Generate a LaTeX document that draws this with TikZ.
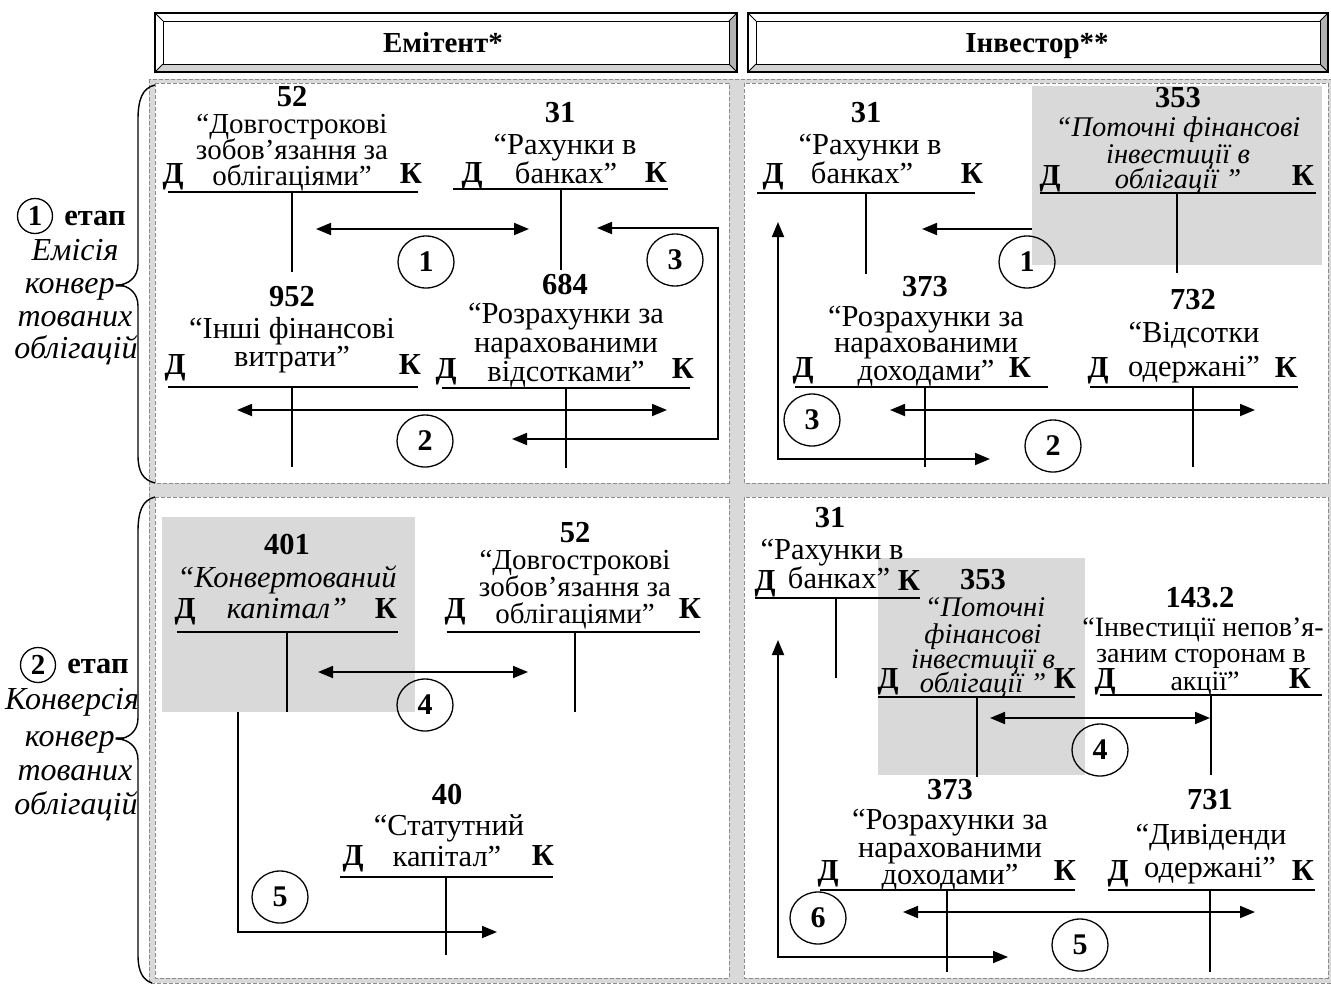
\documentclass[tikz,border=0pt]{standalone}
\usepackage{fontspec}
\setmainfont{Liberation Serif}
\usetikzlibrary{arrows.meta,shapes.geometric}
\definecolor{bggray}{RGB}{217,217,217}
\definecolor{dashgray}{RGB}{140,140,140}
\begin{document}
\begin{tikzpicture}[x=1pt,y=-1pt,
  txt/.style={font=\fontsize{30.5}{30}\selectfont, inner sep=0pt, anchor=base},
  txtb/.style={txt, font=\fontsize{29}{29}\selectfont},
  txts/.style={txt, font=\fontsize{28}{28}\selectfont},
  num/.style={txt, font=\fontsize{30.5}{30}\selectfont\bfseries},
  it/.style={txt, font=\fontsize{30.5}{30}\selectfont\itshape},
  itg/.style={txt, font=\fontsize{28.5}{28}\selectfont\itshape},
  stit/.style={txt, font=\fontsize{32}{32}\selectfont\itshape},
  tline/.style={line width=1.8pt},
  vline/.style={line width=1.3pt},
  arr/.style={line width=1.8pt, -{Triangle[length=15pt,width=12pt]}},
  darr/.style={line width=1.8pt, {Triangle[length=15pt,width=12pt]}-{Triangle[length=15pt,width=12pt]}},
  numcirc/.style={ellipse, draw, line width=1.3pt, minimum width=56pt, minimum height=52pt, inner sep=0pt, font=\fontsize{30}{30}\selectfont\bfseries},
  smallcirc/.style={circle, draw, line width=1.3pt, minimum size=35pt, inner sep=0pt, font=\fontsize{29}{29}\selectfont\bfseries},
  panel/.style={fill=white, draw=dashgray, dash pattern=on 4pt off 2pt, line width=0.8pt},
  brace/.style={line width=1.4pt}]
\useasboundingbox (0,0) rectangle (1331,983);

% background
\fill[bggray] (149,79) rectangle (1331,983);
\draw[dashgray, dash pattern=on 4pt off 2pt, line width=0.8pt] (149,79) rectangle (1331,983);
\draw[panel] (155,83) rectangle (729,483);
\draw[panel] (744,83) rectangle (1328,483);
\draw[panel] (155,497) rectangle (729,978);
\draw[panel] (744,497) rectangle (1328,978);

% shaded accounts
\fill[bggray] (1032,86) rectangle (1322,265);
\fill[bggray] (162,517) rectangle (415,712);
\fill[bggray] (878,558) rectangle (1085,775);

% headers
\foreach \a/\b in {155/737, 748/1328} {
  \fill[gray!35] (\a,72) -- (\b,72) -- (\b-8,64) -- (\a+8,64) -- cycle;
  \fill[gray!60] (\b,13) -- (\b,72) -- (\b-8,64) -- (\b-8,21) -- cycle;
  \draw[line width=2pt] (\a,13) rectangle (\b,72);
  \draw[line width=1pt] (\a+8,21) rectangle (\b-8,64);
  \draw[line width=1pt] (\a,13) -- (\a+8,21) (\b,13) -- (\b-8,21) (\a,72) -- (\a+8,64) (\b,72) -- (\b-8,64);
}
\node[num, font=\fontsize{29}{29}\selectfont\bfseries] (hem) at (443,52) {Емітент*};
\node[num, font=\fontsize{29}{29}\selectfont\bfseries] (hinv) at (1037,52) {Інвестор**};

% stage labels and braces
\node[smallcirc] (s1) at (35,216) {1};
\node[num] (s1e) at (95,225) {етап};
\node[stit] (s1a) at (75,260) {Емісія};
\node[stit] (s1b) at (75,293) {конвер-};
\node[stit] (s1c) at (75,326) {тованих};
\node[stit] (s1d) at (76,358) {облігацій};
\draw[brace] (155,85) .. controls (142,88) and (138,100) .. (138,120) -- (138,264) .. controls (138,278) and (128,284) .. (119,285) .. controls (128,286) and (138,292) .. (138,306) -- (138,455) .. controls (138,472) and (143,480) .. (155,483);

\node[smallcirc] (s2) at (38,665) {2};
\node[num] (s2e) at (98,673) {етап};
\node[stit] (s2a) at (72,709) {Конверсія};
\node[stit] (s2b) at (75,746) {конвер-};
\node[stit] (s2c) at (75,780) {тованих};
\node[stit] (s2d) at (76,814) {облігацій};
\draw[brace] (155,497) .. controls (142,500) and (138,512) .. (138,532) -- (138,718) .. controls (138,732) and (128,738) .. (119,739) .. controls (128,740) and (138,746) .. (138,760) -- (138,955) .. controls (138,972) and (143,980) .. (152,983);

% ===== TL panel =====
% 52
\node[num] (a52n) at (292,106) {52};
\node[txtb] (a52a) at (292,133) {“Довгострокові};
\node[txtb] (a52b) at (292,159) {зобов’язання за};
\node[txtb] (a52c) at (292,185) {облігаціями”};
\node[num] (a52d) at (173,183) {Д};
\node[num] (a52k) at (411,183) {К};
\draw[tline] (168,192) -- (418,192);
\draw[vline] (292,192) -- (292,272);
% 31
\node[num] (b31n) at (560,122) {31};
\node[txt] (b31a) at (565,154) {“Рахунки в};
\node[txt] (b31b) at (566,183) {банках”};
\node[num] (b31d) at (472,182) {Д};
\node[num] (b31k) at (656,182) {К};
\draw[tline] (453,189) -- (668,189);
\draw[vline] (561,189) -- (561,270);
% 952
\node[num] (c952n) at (292,306) {952};
\node[txt] (c952a) at (292,338) {“Інші фінансові};
\node[txt] (c952b) at (292,366) {витрати”};
\node[num] (c952d) at (175,374) {Д};
\node[num] (c952k) at (410,374) {К};
\draw[tline] (168,387) -- (418,387);
\draw[vline] (292,387) -- (292,467);
% 684
\node[num] (d684n) at (565,294) {684};
\node[txt] (d684a) at (566,323) {“Розрахунки за};
\node[txt] (d684b) at (566,352) {нарахованими};
\node[txt] (d684c) at (566,381) {відсотками”};
\node[num] (d684d) at (446,378) {Д};
\node[num] (d684k) at (683,378) {К};
\draw[tline] (442,388) -- (690,388);
\draw[vline] (566,388) -- (566,468);
% arrows
\draw[darr] (316,229) -- (529,229);
\node[numcirc] (tl1) at (426,262) {1};
\draw[darr] (237,410) -- (667,410);
\node[numcirc] (tl2) at (425,441) {2};
\draw[darr] (597,228) -- (718,228) -- (718,439) -- (512,439);
\node[numcirc] (tl3) at (675,260) {3};

% ===== TR panel =====
% 31
\node[num] (e31n) at (866,122) {31};
\node[txt] (e31a) at (870,154) {“Рахунки в};
\node[txt] (e31b) at (862,183) {банках”};
\node[num] (e31d) at (773,183) {Д};
\node[num] (e31k) at (972,183) {К};
\draw[tline] (757,193) -- (975,193);
\draw[vline] (866,193) -- (866,274);
% 353
\node[num] (f353n) at (1178,107) {353};
\node[itg] (f353a) at (1178,136) {“Поточні фінансові};
\node[itg] (f353b) at (1178,163) {інвестиції в};
\node[itg] (f353c) at (1178,188) {облігації ”};
\node[num] (f353d) at (1050,185) {Д};
\node[num] (f353k) at (1303,185) {К};
\draw[tline] (1040,193) -- (1316,193);
\draw[vline] (1177,193) -- (1177,273);
% 373
\node[num] (g373n) at (925,296) {373};
\node[txt] (g373a) at (926,326) {“Розрахунки за};
\node[txt] (g373b) at (926,352) {нарахованими};
\node[txt] (g373c) at (926,380) {доходами”};
\node[num] (g373d) at (803,377) {Д};
\node[num] (g373k) at (1020,377) {К};
\draw[tline] (795,387) -- (1048,387);
\draw[vline] (925,387) -- (925,467);
% 732
\node[num] (h732n) at (1193,309) {732};
\node[txt] (h732a) at (1194,342) {“Відсотки};
\node[txt] (h732b) at (1194,376) {одержані”};
\node[num] (h732d) at (1098,377) {Д};
\node[num] (h732k) at (1286,377) {К};
\draw[tline] (1090,387) -- (1298,387);
\draw[vline] (1193,387) -- (1193,467);
% arrows
\draw[arr] (1032,229) -- (922,229);
\node[numcirc] (tr1) at (1027,262) {1};
\draw[darr] (890,410) -- (1255,410);
\node[numcirc] (tr2) at (1053,446) {2};
\draw[darr] (778,222) -- (778,459) -- (990,459);
\node[numcirc] (tr3) at (812,420) {3};

% ===== BL panel =====
% 401
\node[num] (i401n) at (287,554) {401};
\node[it] (i401a) at (287,587) {“Конвертований};
\node[it] (i401b) at (287,618) {капітал”};
\node[num] (i401d) at (185,618) {Д};
\node[num] (i401k) at (386,618) {К};
\draw[tline] (177,632) -- (398,632);
\draw[vline] (287,632) -- (287,712);
% 52
\node[num] (j52n) at (575,542) {52};
\node[txtb] (j52a) at (575,569) {“Довгострокові};
\node[txtb] (j52b) at (575,596) {зобов’язання за};
\node[txtb] (j52c) at (575,623) {облігаціями”};
\node[num] (j52d) at (455,618) {Д};
\node[num] (j52k) at (690,618) {К};
\draw[tline] (447,632) -- (700,632);
\draw[vline] (575,632) -- (575,712);
% 40
\node[num] (k40n) at (447,804) {40};
\node[txt] (k40a) at (449,835) {“Статутний};
\node[txt] (k40b) at (447,866) {капітал”};
\node[num] (k40d) at (353,865) {Д};
\node[num] (k40k) at (543,865) {К};
\draw[tline] (340,877) -- (553,877);
\draw[vline] (446,877) -- (446,955);
% arrows
\draw[darr] (318,672) -- (528,672);
\node[numcirc] (bl4) at (425,705) {4};
\draw[arr] (238,712) -- (238,932) -- (497,932);
\node[numcirc] (bl5) at (280,897) {5};

% ===== BR panel =====
% 31
\node[num] (l31n) at (830,527) {31};
\node[txt] (l31a) at (832,559) {“Рахунки в};
\node[txt] (l31b) at (839,588) {банках”};
\node[num] (l31d) at (765,590) {Д};
\node[num] (l31k) at (909,590) {К};
\draw[tline] (755,598) -- (920,598);
\draw[vline] (836,598) -- (836,678);
% 353
\node[num] (m353n) at (983,589) {353};
\node[itg] (m353a) at (985,616) {“Поточні};
\node[itg] (m353b) at (983,643) {фінансові};
\node[itg] (m353c) at (983,668) {інвестиції в};
\node[itg] (m353d0) at (983,692) {облігації ”};
\node[num] (m353d) at (888,688) {Д};
\node[num] (m353k) at (1065,688) {К};
\draw[tline] (878,697) -- (1075,697);
\draw[vline] (977,697) -- (977,777);
% 143.2
\node[num] (n143n) at (1200,607) {143.2};
\node[txts] (n143a) at (1203,636) {“Інвестиції непов’я-};
\node[txts] (n143b) at (1201,662) {заним сторонам в};
\node[txts] (n143c) at (1205,690) {акції”};
\node[num] (n143d) at (1105,688) {Д};
\node[num] (n143k) at (1300,688) {К};
\draw[tline] (1100,695) -- (1322,695);
\draw[vline] (1211,695) -- (1211,775);
% 373
\node[num] (o373n) at (950,799) {373};
\node[txt] (o373a) at (950,829) {“Розрахунки за};
\node[txt] (o373b) at (950,857) {нарахованими};
\node[txt] (o373c) at (950,884) {доходами”};
\node[num] (o373d) at (828,880) {Д};
\node[num] (o373k) at (1065,880) {К};
\draw[tline] (820,890) -- (1075,890);
\draw[vline] (947,890) -- (947,972);
% 731
\node[num] (p731n) at (1210,809) {731};
\node[txt] (p731a) at (1211,844) {“Дивіденди};
\node[txt] (p731b) at (1210,877) {одержані”};
\node[num] (p731d) at (1118,880) {Д};
\node[num] (p731k) at (1303,880) {К};
\draw[tline] (1108,890) -- (1315,890);
\draw[vline] (1210,890) -- (1210,972);
% arrows
\draw[darr] (990,718) -- (1210,718);
\node[numcirc] (br4) at (1100,750) {4};
\draw[darr] (903,912) -- (1255,912);
\node[numcirc] (br5) at (1080,945) {5};
\draw[darr] (778,640) -- (778,957) -- (1008,957);
\node[numcirc] (br6) at (818,918) {6};
\end{tikzpicture}
\end{document}
